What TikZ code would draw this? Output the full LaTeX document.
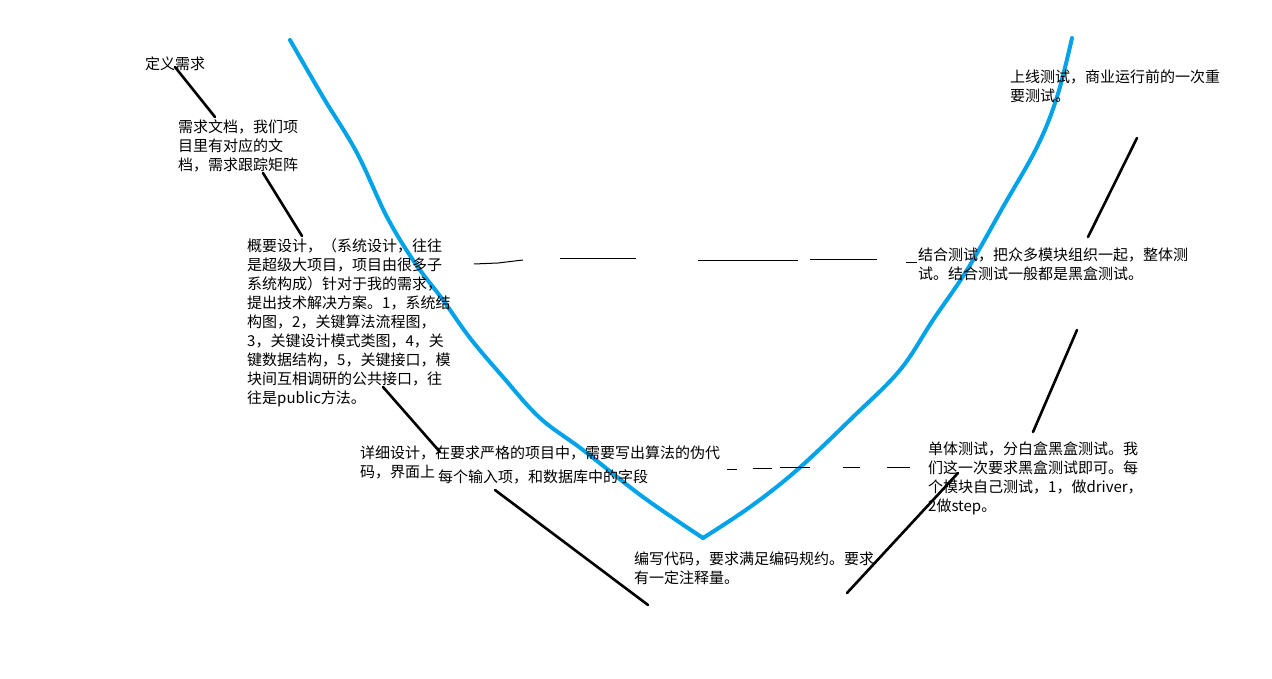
\documentclass[tikz,border=0pt]{standalone}
\usepackage{fontspec}
\setmainfont{Noto Sans CJK SC}
\definecolor{vblue}{RGB}{0,162,232}
\begin{document}
\begin{tikzpicture}[x=1pt,y=-1pt,
	note/.style={anchor=north west,inner sep=0pt,align=left,font=\fontsize{15}{19}\selectfont},
	pen/.style={line width=2.6pt,line cap=round},
	vline/.style={line width=4pt,color=vblue,line cap=round,line join=round},
	gap/.style={line width=1pt}]
	\useasboundingbox (0,0) rectangle (1272,679);
	% the V
	\draw [vline] plot[smooth,tension=0.6] coordinates {(290,40) (323,97) (357,153) (387,217) (415,263) (443,300) (470,338) (503,377) (540,418) (583,450) (643,497) (703,538)};
	\draw [vline] plot[smooth,tension=0.6] coordinates {(703,538) (750,507) (797,470) (853,417) (900,370) (933,320) (967,270) (1003,207) (1037,147) (1057,97) (1072,38)};
	% texts
	\node [note] (define) at (145,57) {定义需求};
	\node [note] (reqdoc) at (178,120) {需求文档，我们项\\目里有对应的文\\档，需求跟踪矩阵};
	\node [note] (arch) at (247,238) {概要设计，（系统设计，往往\\是超级大项目，项目由很多子\\系统构成）针对于我的需求，\\提出技术解决方案。1，系统结\\构图，2，关键算法流程图，\\3，关键设计模式类图，4，关\\键数据结构，5，关键接口，模\\块间互相调研的公共接口，往\\往是public方法。};
	\node [note] (detail) at (360,446) {详细设计，在要求严格的项目中，需要写出算法的伪代\\码，界面上};
	\node [note] (fields) at (438,470) {每个输入项，和数据库中的字段};
	\node [note] (coding) at (634,552) {编写代码，要求满足编码规约。要求\\有一定注释量。};
	\node [note] (unit) at (928,442) {单体测试，分白盒黑盒测试。我\\们这一次要求黑盒测试即可。每\\个模块自己测试，1，做driver，\\2做step。};
	\node [note] (integ) at (918,248) {结合测试，把众多模块组织一起，整体测\\试。结合测试一般都是黑盒测试。};
	\node [note] (release) at (1010,70) {上线测试，商业运行前的一次重\\要测试。};
	% pointer strokes
	\coordinate (d1) at (175,67);   \coordinate (r1) at (215,117);
	\coordinate (r2) at (263,173);  \coordinate (a1) at (302,236);
	\coordinate (a2) at (383,387);  \coordinate (t1) at (440,452);
	\coordinate (t2) at (495,490);  \coordinate (c1) at (648,605);
	\coordinate (c2) at (847,593);  \coordinate (u1) at (958,473);
	\coordinate (u2) at (1033,432); \coordinate (i1) at (1077,330);
	\coordinate (i2) at (1088,237); \coordinate (l1) at (1137,138);
	\foreach \p/\q in {d1/r1,r2/a1,a2/t1,t2/c1,c2/u1,u2/i1,i2/l1}
		\draw [pen] (\p) -- (\q);
	% level guides
	\draw [gap] (474,264) -- (498,263) -- (523,260);
	\foreach \a/\b/\y in {560/636/259,698/798/261,810/877/260,906/917/263}
		\draw [gap] (\a,\y) -- (\b,\y);
	\foreach \a/\b/\y in {727/737/469,753/772/468,780/810/467,843/860/467,887/910/467}
		\draw [gap] (\a,\y) -- (\b,\y);
\end{tikzpicture}
\end{document}
